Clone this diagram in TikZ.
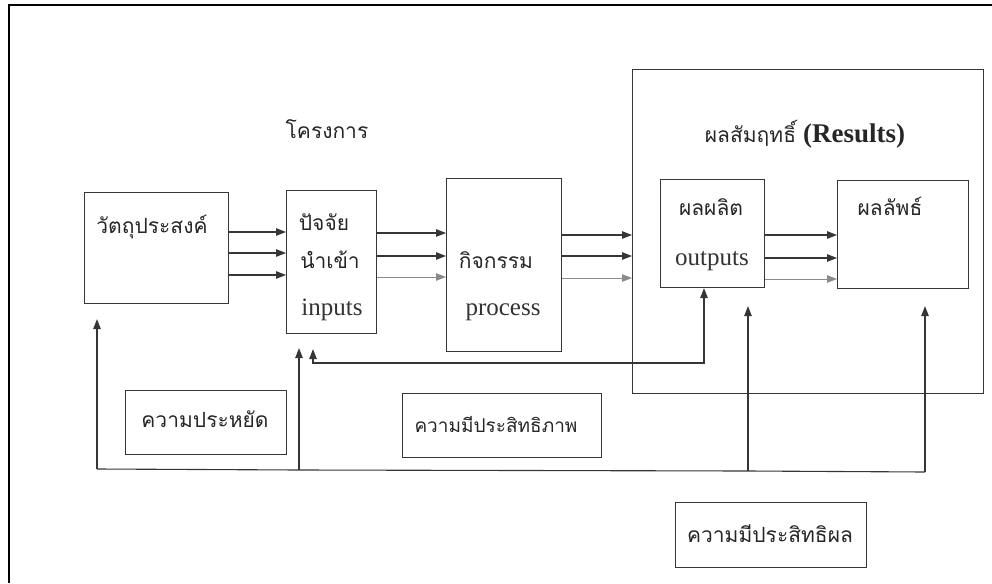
\documentclass[tikz,border=0pt]{standalone}
\usepackage{fontspec}
\setmainfont{Liberation Serif}
\newfontfamily\thai[Script=Thai]{Loma}
\usetikzlibrary{arrows.meta,calc}
\definecolor{ln}{HTML}{363636}
\definecolor{lt}{HTML}{8A8A8A}
\begin{document}
\begin{tikzpicture}[x=1pt,y=-1pt,
  box/.style={draw=ln,line width=1.1pt,inner sep=0pt,anchor=north west},
  arr/.style={draw=ln,line width=1.1pt,-{Triangle[length=10pt,width=7.5pt]}},
  arrl/.style={draw=lt,line width=1pt,-{Triangle[length=10pt,width=7.5pt]}},
  th/.style={font=\thai\fontsize{21}{24}\selectfont,text=black!85,anchor=base,inner sep=0pt},
  lat/.style={font=\fontsize{25}{28}\selectfont,text=black!80,anchor=base,inner sep=0pt}
]
\useasboundingbox (0,0) rectangle (992,583);
% outer frame
\draw[black,line width=2pt] (9,583) -- (9,5) -- (992,5);

% boxes
\node[box,minimum width=144pt,minimum height=111pt] (obj) at (84,192) {};
\node[box,minimum width=90pt,minimum height=143pt] (inp) at (286,190) {};
\node[box,minimum width=115pt,minimum height=173pt] (act) at (446,178) {};
\node[box,minimum width=351pt,minimum height=324pt] (res) at (632,69) {};
\node[box,minimum width=104pt,minimum height=108pt] (out) at (660,179) {};
\node[box,minimum width=131pt,minimum height=108pt] (eff) at (837,180) {};
\node[box,minimum width=161pt,minimum height=64pt] (econ) at (125,390) {};
\node[box,minimum width=199pt,minimum height=64pt] (effi) at (402,393) {};
\node[box,minimum width=191pt,minimum height=65pt] (effe) at (675,502) {};

% texts
\node[th] (tproj) at (327,139) {โครงการ};
\node[anchor=base,inner sep=0pt,text=black!85] (tres) at (805,142) {{\thai\fontsize{21}{24}\selectfont ผลสัมฤทธิ์}\hspace{7pt}{\fontsize{27}{30}\selectfont\bfseries (Results)}};
\node[th] (tobj) at (152,233) {วัตถุประสงค์};
\node[th] (tinp1) at (324,230) {ปัจจัย};
\node[th] (tinp2) at (330,268) {นำเข้า};
\node[lat] (tinp3) at (332,315) {inputs};
\node[th] (tact1) at (496,268) {กิจกรรม};
\node[lat] (tact2) at (503,315) {process};
\node[th] (tout1) at (711,215) {ผลผลิต};
\node[lat] (tout2) at (712,265) {outputs};
\node[th] (teff) at (890,215) {ผลลัพธ์};
\node[th] (tecon) at (205,427) {ความประหยัด};
\node[th,font=\thai\fontsize{19}{22}\selectfont] (teffi) at (496,432) {ความมีประสิทธิภาพ};
\node[th] (teffe) at (770,542) {ความมีประสิทธิผล};

% level coordinates
\coordinate (a1) at (0,232); \coordinate (a2) at (0,253); \coordinate (a3) at (0,275);
\coordinate (b1) at (0,233); \coordinate (b2) at (0,256); \coordinate (b3) at (0,277);
\coordinate (c1) at (0,235); \coordinate (c2) at (0,256); \coordinate (c3) at (0,278);
\coordinate (d1) at (0,235); \coordinate (d2) at (0,258); \coordinate (d3) at (0,279);

% forward arrows
\draw[arr] (obj.east |- a1) -- (inp.west |- a1);
\draw[arr] (obj.east |- a2) -- (inp.west |- a2);
\draw[arr] (obj.east |- a3) -- (inp.west |- a3);
\draw[arr] (inp.east |- b1) -- (act.west |- b1);
\draw[arr] (inp.east |- b2) -- (act.west |- b2);
\draw[arrl] (inp.east |- b3) -- (act.west |- b3);
\draw[arr] (act.east |- c1) -- (res.west |- c1);
\draw[arr] (act.east |- c2) -- (res.west |- c2);
\draw[arrl] (act.east |- c3) -- (res.west |- c3);
\draw[arr] (out.east |- d1) -- (eff.west |- d1);
\draw[arr] (out.east |- d2) -- (eff.west |- d2);
\draw[arrl] (out.east |- d3) -- (eff.west |- d3);

% feedback lines
\coordinate (f1) at (97,469);
\coordinate (f2) at (299,470);
\coordinate (f3) at (748,471);
\coordinate (f4) at (925,472);
\draw[ln,line width=1.1pt] (f1) -- (f2) -- (f3) -- (f4);
\draw[arr,shorten >=15pt] (f1) -- (f1 |- obj.south);
\draw[arr,shorten >=14pt] (f2) -- (f2 |- inp.south);
\draw[arr,shorten >=18pt] (f3) -- (f3 |- out.south);
\draw[arr,shorten >=17pt] (f4) -- (f4 |- eff.south);

% double arrow outputs <-> inputs
\coordinate (g1) at (704,363);
\coordinate (g2) at (313,363);
\draw[ln,line width=1.1pt,{Triangle[length=10pt,width=7.5pt]}-{Triangle[length=10pt,width=7.5pt]},shorten >=15pt]
  (g1 |- out.south) -- (g1) -- (g2) -- (g2 |- inp.south);
\end{tikzpicture}
\end{document}
